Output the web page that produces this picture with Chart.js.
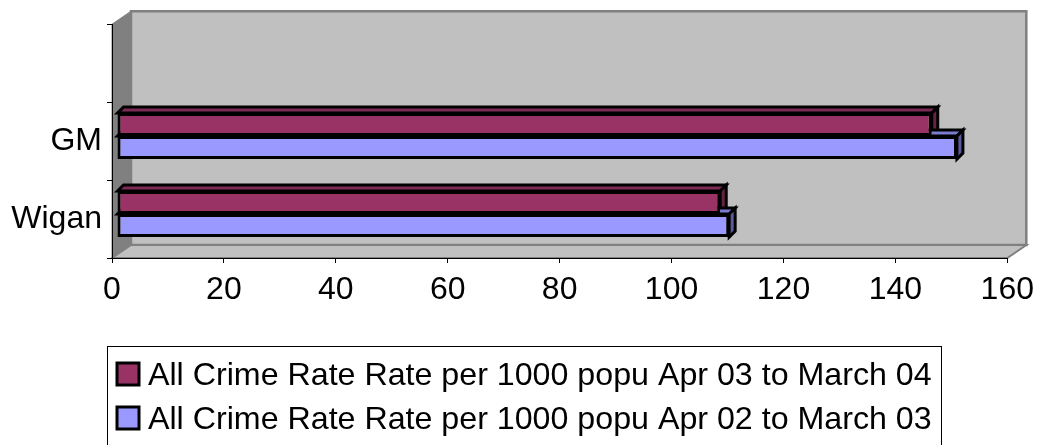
<!DOCTYPE html>
<html>
<head>
<meta charset="utf-8">
<style>
  html, body { margin: 0; padding: 0; background: #fff; }
</style>
<script src="https://cdn.jsdelivr.net/npm/chart.js@4.4.1/dist/chart.umd.min.js"></script>
</head>
<body>
<canvas id="chart" width="1042" height="445"></canvas>
<script>
// Categories from top to bottom (the top slot is blank in the original)
const categories = ['', 'GM', 'Wigan'];
const seriesNames = [
  'All Crime Rate Rate per 1000 popu Apr 03 to March 04',
  'All Crime Rate Rate per 1000 popu Apr 02 to March 03'
];
const rate0304 = [null, 145.6, 107.8];
const rate0203 = [null, 150.1, 109.4];
const xTicks = [0, 20, 40, 60, 80, 100, 120, 140, 160];

const FONT = "'Liberation Sans', Arial, sans-serif";

// fill and draw a polygon
function poly(ctx, pts, fill, stroke, lw) {
  ctx.beginPath();
  ctx.moveTo(pts[0][0], pts[0][1]);
  for (let i = 1; i < pts.length; i++) ctx.lineTo(pts[i][0], pts[i][1]);
  ctx.closePath();
  if (fill) { ctx.fillStyle = fill; ctx.fill(); }
  if (stroke) { ctx.strokeStyle = stroke; ctx.lineWidth = lw || 1; ctx.lineJoin = 'miter'; ctx.stroke(); }
}

// Excel-style walls behind the plot
const walls3d = {
  id: 'walls3d',
  beforeDraw(chart) {
    const ctx = chart.ctx;
    const a = chart.chartArea;
    const dx = 19, dy = 13;
    ctx.save();
    // back wall
    poly(ctx, [[a.left + dx, a.top - dy], [a.right + dx, a.top - dy], [a.right + dx, a.bottom - dy], [a.left + dx, a.bottom - dy]], '#c0c0c0', '#808080', 2.5);
    // side wall
    poly(ctx, [[a.left, a.top], [a.left + dx, a.top - dy], [a.left + dx, a.bottom - dy], [a.left, a.bottom]], '#808080', '#808080', 1);
    // floor
    poly(ctx, [[a.left, a.bottom], [a.left + dx, a.bottom - dy], [a.right + dx, a.bottom - dy], [a.right, a.bottom]], '#c0c0c0', '#808080', 2);
    ctx.restore();
  }
};

// shift bars into the depth and add top / side faces
const barShift = { x: 5, y: -5 };
const barDepth = { x: 6, y: 6 };
const faceColors = [
  { top: '#7d2a55', side: '#662244' },
  { top: '#7b7bd0', side: '#5c5c9c' }
];
const bars3d = {
  id: 'bars3d',
  beforeDatasetsDraw(chart) {
    const ctx = chart.ctx;
    ctx.save();
    ctx.translate(barShift.x, barShift.y);
    chart.data.datasets.forEach((ds, di) => {
      const meta = chart.getDatasetMeta(di);
      meta.data.forEach((el, i) => {
        if (ds.data[i] == null) return;
        const p = el.getProps(['x', 'y', 'base', 'height'], true);
        const left = Math.min(p.base, p.x), right = Math.max(p.base, p.x);
        const top = p.y - p.height / 2, bottom = p.y + p.height / 2;
        const bx = barDepth.x, by = barDepth.y;
        poly(ctx, [[left, top], [left + bx, top - by], [right + bx, top - by], [right, top]], faceColors[di].top, '#000', 3);
        poly(ctx, [[right, top], [right + bx, top - by], [right + bx, bottom - by], [right, bottom]], faceColors[di].side, '#000', 3);
      });
    });
  },
  afterDatasetsDraw(chart) {
    chart.ctx.restore();
  }
};

// bordered legend under the plot
const boxLegend = {
  id: 'boxLegend',
  afterDraw(chart) {
    const ctx = chart.ctx;
    ctx.save();
    ctx.strokeStyle = '#000';
    ctx.lineWidth = 1;
    ctx.strokeRect(107.5, 346.5, 834, 130);
    ctx.font = '32.2px ' + FONT;
    ctx.textBaseline = 'alphabetic';
    chart.data.datasets.forEach((ds, i) => {
      const y = 363 + i * 44;
      ctx.fillStyle = ds.backgroundColor;
      ctx.fillRect(117, y, 22, 22);
      ctx.strokeStyle = '#000';
      ctx.lineWidth = 3;
      ctx.strokeRect(117, y, 22, 22);
      ctx.fillStyle = '#000';
      ctx.fillText(ds.label, 148, y + 22);
    });
    ctx.restore();
  }
};

new Chart(document.getElementById('chart'), {
  type: 'bar',
  data: {
    labels: categories,
    datasets: [
      { label: seriesNames[0], data: rate0304, backgroundColor: '#993366' },
      { label: seriesNames[1], data: rate0203, backgroundColor: '#9999ff' }
    ]
  },
  options: {
    indexAxis: 'y',
    responsive: false,
    animation: false,
    devicePixelRatio: 1,
    layout: { padding: { top: 24, right: 34, bottom: 0, left: 0 } },
    datasets: {
      bar: {
        borderColor: '#000',
        borderWidth: 3,
        borderSkipped: false,
        categoryPercentage: 0.59,
        barPercentage: 1,
        clip: false
      }
    },
    plugins: {
      legend: { display: false },
      tooltip: { enabled: false }
    },
    scales: {
      x: {
        type: 'linear',
        min: 0,
        max: 160,
        afterBuildTicks: (scale) => { scale.ticks = xTicks.map(v => ({ value: v })); },
        afterFit: (scale) => { scale.height = 187; },
        grid: { drawOnChartArea: false, tickLength: 5, color: '#000' },
        border: { color: '#000', width: 1 },
        ticks: { color: '#000', font: { family: FONT, size: 32 }, padding: 8, maxRotation: 0 }
      },
      y: {
        afterFit: (scale) => { scale.width = 112; },
        grid: { drawOnChartArea: false, tickLength: 5, color: '#000', offset: true },
        border: { color: '#000', width: 1 },
        ticks: { color: '#000', font: { family: FONT, size: 32 }, padding: 5 }
      }
    }
  },
  plugins: [walls3d, bars3d, boxLegend]
});
</script>
</body>
</html>
